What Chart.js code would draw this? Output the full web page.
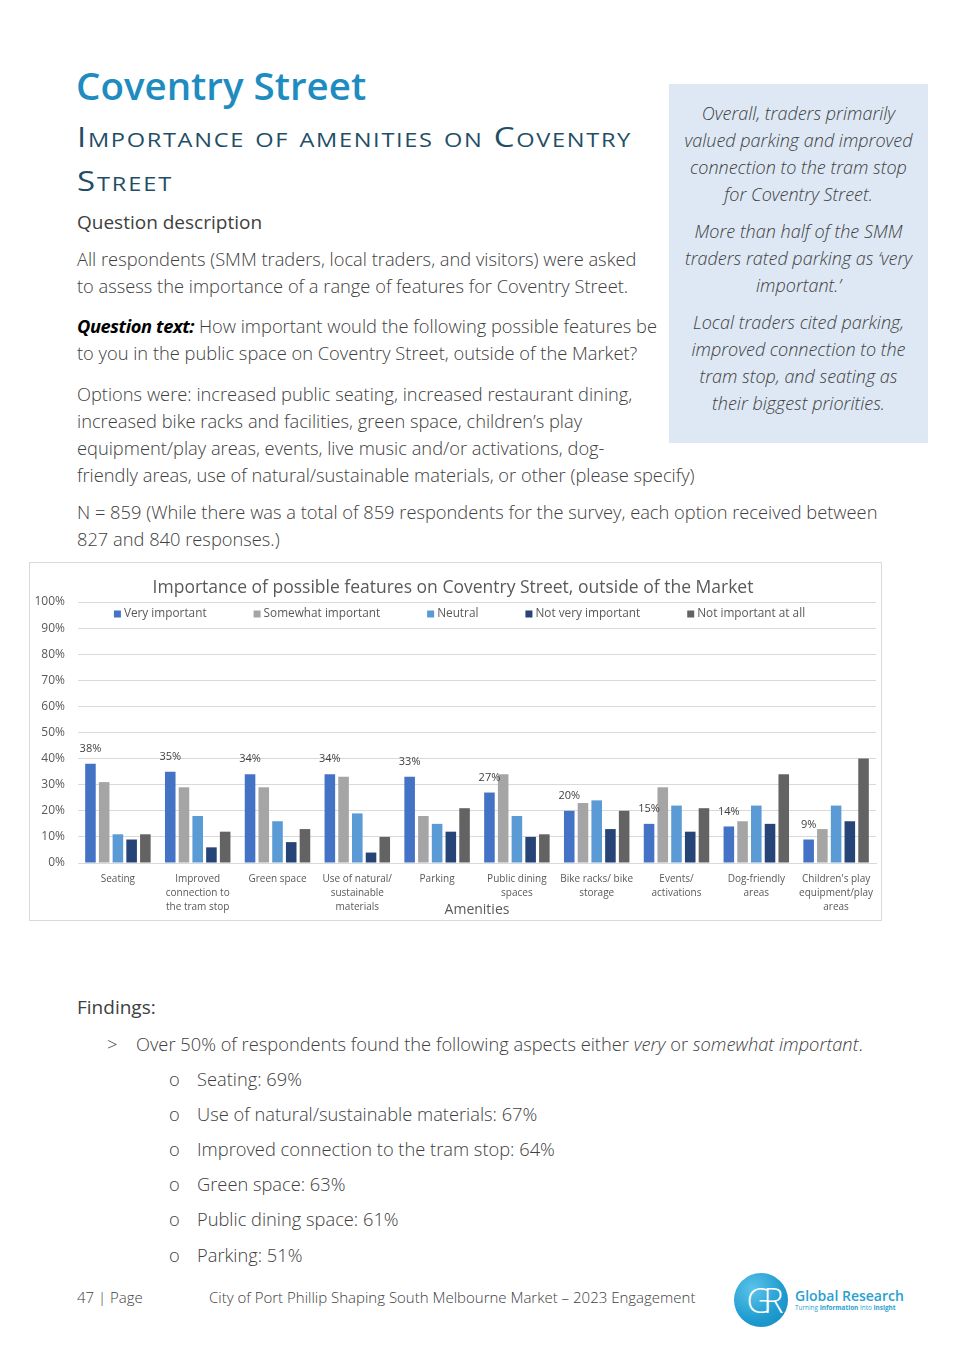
<!DOCTYPE html>
<html>
<head>
<meta charset="utf-8">
<script src="https://cdn.jsdelivr.net/npm/chart.js@4.4.0/dist/chart.umd.min.js"></script>
<style>
  html, body { margin: 0; padding: 0; background: #fff; }
  body { width: 956px; height: 1369px; position: relative; overflow: hidden; font-family: 'Open Sans', sans-serif; color: #404040; }
  .t { position: absolute; white-space: nowrap; line-height: normal; }
  .body { font-size: 18.3px; font-weight: 300; }
  .h1 { font-size: 38.5px; font-weight: 600; color: #1e8cc0; }
  .h2 { font-size: 28px; font-weight: 400; font-variant: small-caps; color: #1f4e66; transform-origin: 0 0; }
  .h3 { font-size: 19px; font-weight: 500; color: #404040; }
  .side { position: absolute; left: 669px; top: 84px; width: 259px; height: 359px; background: #dde8f4; }
  .side .t { left: 0; width: 259px; text-align: center; font-size: 18px; font-weight: 300; font-style: italic; }
  .chartBox { position: absolute; left: 29px; top: 562px; width: 853px; height: 359px; box-sizing: border-box; border: 1px solid #d9d9d9; }
  .chartBox div { position: relative; width: 851px; height: 357px; }
  .foot { font-size: 15px; font-weight: 300; }
  .logo { position: absolute; left: 734px; top: 1273px; width: 54px; height: 54px; border-radius: 50%;
          background: radial-gradient(circle at 35% 30%, #5cc3ea, #1e9bd0 60%, #1787bb); color: #fff;
          font-size: 34px; font-weight: 300; text-align: center; line-height: 54px; letter-spacing: -8px; }
</style>
</head>
<body>

<div class="t h1" style="left:76px; top:59px;">Coventry Street</div>
<div class="t h2" data-w="555" style="left:77px; top:117px;">Importance of amenities on Coventry</div>
<div class="t h2" data-w="96" style="left:77px; top:161px;">Street</div>
<div class="t h3" style="left:77px; top:209px;">Question description</div>

<div class="t body" style="left:77px; top:246px;">All respondents (SMM traders, local traders, and visitors) were asked</div>
<div class="t body" style="left:77px; top:273px;">to assess the importance of a range of features for Coventry Street.</div>
<div class="t body" style="left:77px; top:313px;"><b style="font-weight:700;font-style:italic;color:#000;letter-spacing:-0.4px;">Question text:</b> How important would the following possible features be</div>
<div class="t body" style="left:77px; top:340px;">to you in the public space on Coventry Street, outside of the Market?</div>
<div class="t body" style="left:77px; top:381px;">Options were: increased public seating, increased restaurant dining,</div>
<div class="t body" style="left:77px; top:408px;">increased bike racks and facilities, green space, children’s play</div>
<div class="t body" style="left:77px; top:435px;">equipment/play areas, events, live music and/or activations, dog-</div>
<div class="t body" style="left:77px; top:462px;">friendly areas, use of natural/sustainable materials, or other (please specify)</div>
<div class="t body" style="left:77px; top:499px;">N = 859 (While there was a total of 859 respondents for the survey, each option received between</div>
<div class="t body" style="left:77px; top:526px;">827 and 840 responses.)</div>

<div class="side">
  <div class="t" style="top:17px;">Overall, traders primarily</div>
  <div class="t" style="top:44px;">valued parking and improved</div>
  <div class="t" style="top:71px;">connection to the tram stop</div>
  <div class="t" style="top:98px;">for Coventry Street.</div>
  <div class="t" style="top:135px;">More than half of the SMM</div>
  <div class="t" style="top:162px;">traders rated parking as ‘very</div>
  <div class="t" style="top:189px;">important.’</div>
  <div class="t" style="top:226px;">Local traders cited parking,</div>
  <div class="t" style="top:253px;">improved connection to the</div>
  <div class="t" style="top:280px;">tram stop, and seating as</div>
  <div class="t" style="top:307px;">their biggest priorities.</div>
</div>

<div class="chartBox"><div><canvas id="chart"></canvas></div></div>

<div class="t h3" style="left:77px; top:994px;">Findings:</div>
<div class="t body" style="left:107px; top:1031px;">&gt;</div>
<div class="t body" style="left:136px; top:1031px;">Over 50% of respondents found the following aspects either <i>very</i> or <i>somewhat important</i>.</div>
<div class="t body" style="left:169px; top:1066px;">o</div>
<div class="t body" style="left:197px; top:1066px;">Seating: 69%</div>
<div class="t body" style="left:169px; top:1101px;">o</div>
<div class="t body" style="left:197px; top:1101px;">Use of natural/sustainable materials: 67%</div>
<div class="t body" style="left:169px; top:1136px;">o</div>
<div class="t body" style="left:197px; top:1136px;">Improved connection to the tram stop: 64%</div>
<div class="t body" style="left:169px; top:1171px;">o</div>
<div class="t body" style="left:197px; top:1171px;">Green space: 63%</div>
<div class="t body" style="left:169px; top:1206px;">o</div>
<div class="t body" style="left:197px; top:1206px;">Public dining space: 61%</div>
<div class="t body" style="left:169px; top:1242px;">o</div>
<div class="t body" style="left:197px; top:1242px;">Parking: 51%</div>

<div class="t foot" style="left:77px; top:1287px;">47 | Page</div>
<div class="t foot" style="left:209px; top:1287px;">City of Port Phillip Shaping South Melbourne Market – 2023 Engagement</div>
<div class="logo">GR</div>
<div class="t" style="left:795px; top:1286px; font-size:14px; font-weight:600; color:#2a9fd0;">Global Research</div>
<div class="t" style="left:795px; top:1303px; font-size:6.4px; color:#2a9fd0;">Turning <b>Information</b> Into <b>Insight</b></div>

<script>
// widen the small-caps heading lines to the reference width (wide geometric face)
document.querySelectorAll('[data-w]').forEach(el => {
  const target = +el.dataset.w;
  const sx = 1.18;
  const n = el.textContent.length;
  const w = el.getBoundingClientRect().width;
  el.style.letterSpacing = ((target / sx - w) / n) + 'px';
  el.style.transform = 'scaleX(' + sx + ')';
});

// chart data
const categories = [
  'Seating',
  ['Improved', 'connection to', 'the tram stop'],
  'Green space',
  ['Use of natural/', 'sustainable', 'materials'],
  'Parking',
  ['Public dining', 'spaces'],
  ['Bike racks/ bike', 'storage'],
  ['Events/', 'activations'],
  ['Dog-friendly', 'areas'],
  ["Children's play", 'equipment/play', 'areas']
];
const seriesLabels = ['Very important', 'Somewhat important', 'Neutral', 'Not very important', 'Not important at all'];
const veryImportant = [38, 35, 34, 34, 33, 27, 20, 15, 14, 9];
const somewhatImportant = [31, 29, 29, 33, 18, 34, 23, 29, 16, 13];
const neutral = [11, 18, 16, 19, 15, 18, 24, 22, 22, 22];
const notVeryImportant = [9, 6, 8, 4, 12, 10, 13, 12, 15, 16];
const notImportantAtAll = [11, 12, 13, 10, 21, 11, 20, 21, 34, 40];
const yTicks = [0, 10, 20, 30, 40, 50, 60, 70, 80, 90, 100];

const seriesColors = ['#4472C4', '#A5A5A5', '#5B9BD5', '#264478', '#636363'];
const seriesValues = [veryImportant, somewhatImportant, neutral, notVeryImportant, notImportantAtAll];

Chart.defaults.font.family = "'Open Sans', sans-serif";
Chart.defaults.color = '#595959';

// Excel-style legend sitting inside the top of the plot
const topLegend = {
  id: 'topLegend',
  afterDraw(chart) {
    const { ctx, chartArea } = chart;
    ctx.save();
    ctx.font = "11.8px 'Open Sans'";
    ctx.textBaseline = 'middle';
    const box = 7, boxGap = 3, gap = 47;
    const items = chart.data.datasets.map(d => ({
      label: d.label,
      color: d.backgroundColor,
      w: box + boxGap + ctx.measureText(d.label).width
    }));
    const total = items.reduce((s, i) => s + i.w, 0) + gap * (items.length - 1);
    let x = chart.width / 2 - total / 2 + 4;
    const y = chartArea.top + 12;
    items.forEach(it => {
      ctx.fillStyle = it.color;
      ctx.fillRect(x, y - box / 2, box, box);
      ctx.fillStyle = '#595959';
      ctx.fillText(it.label, x + box + boxGap, y);
      x += it.w + gap;
    });
    ctx.restore();
  }
};

// value labels on the 'Very important' bars only
const valueLabels = {
  id: 'valueLabels',
  afterDatasetsDraw(chart) {
    const { ctx } = chart;
    const meta = chart.getDatasetMeta(0);
    ctx.save();
    ctx.font = "11px 'Open Sans'";
    ctx.fillStyle = '#404040';
    ctx.textAlign = 'center';
    ctx.textBaseline = 'middle';
    meta.data.forEach((bar, i) => {
      ctx.fillText(chart.data.datasets[0].data[i] + '%', bar.x, bar.y - 15);
    });
    ctx.restore();
  }
};

new Chart(document.getElementById('chart'), {
  type: 'bar',
  data: {
    labels: categories,
    datasets: seriesLabels.map((label, i) => ({
      label: label,
      data: seriesValues[i],
      backgroundColor: seriesColors[i],
      barPercentage: 0.77,
      categoryPercentage: 0.86
    }))
  },
  options: {
    responsive: true,
    maintainAspectRatio: false,
    animation: false,
    layout: { padding: { top: 0, right: 5, bottom: 0, left: 0 } },
    scales: {
      x: {
        grid: { display: false },
        border: { color: '#d9d9d9' },
        ticks: { font: { size: 10, lineHeight: 1.4 }, color: '#595959', padding: 1, maxRotation: 0, autoSkip: false },
        title: { display: true, text: 'Amenities', font: { size: 14 }, color: '#595959', padding: { top: 0, bottom: 2 } },
        afterFit: s => { s.height = 57; }
      },
      y: {
        min: 0,
        max: 100,
        afterBuildTicks: s => { s.ticks = yTicks.map(v => ({ value: v })); },
        ticks: { callback: v => v + '%', font: { size: 12 }, color: '#595959', padding: 13 },
        grid: { color: '#d9d9d9', drawTicks: false },
        border: { display: false },
        afterFit: s => { s.width = 48; }
      }
    },
    plugins: {
      legend: { display: false },
      tooltip: { enabled: false },
      title: {
        display: true,
        text: 'Importance of possible features on Coventry Street, outside of the Market',
        font: { size: 17.5, weight: 'normal' },
        color: '#595959',
        padding: { top: 15, bottom: 3 }
      }
    }
  },
  plugins: [topLegend, valueLabels]
});
</script>
</body>
</html>
